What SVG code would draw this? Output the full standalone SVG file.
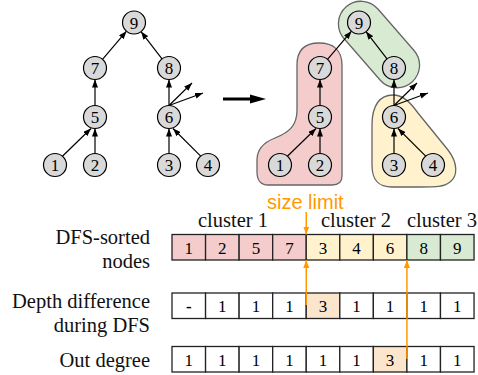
<svg xmlns="http://www.w3.org/2000/svg" width="478" height="375" viewBox="0 0 478 375">
<style>
.n circle{fill:#d9d9d9;stroke:#000;stroke-width:1.2}
.n text,.ct{text-anchor:middle;fill:#000}
.e line{stroke:#000;stroke-width:1.2;marker-end:url(#ah)}
.blob{stroke:#666;stroke-width:1.3}
.cell{stroke:#222;stroke-width:1.3}
.lbl{fill:#111}
.or{stroke:#ff9900;stroke-width:1.5;marker-end:url(#oh)}
</style>
<defs>
<marker id="ah" markerUnits="userSpaceOnUse" markerWidth="8" markerHeight="6" refX="8" refY="3" orient="auto"><path d="M0,0 L8,3 L0,6 z" fill="#000"/></marker>
<marker id="oh" markerUnits="userSpaceOnUse" markerWidth="8" markerHeight="6" refX="8" refY="3" orient="auto"><path d="M0,0 L8,3 L0,6 z" fill="#ff9900"/></marker>
</defs>

<!-- cluster blobs -->
<g id="blobs">
<path id="blob-pink" class="blob" fill="#f4cccc" d="M297,65 C297,50 305,43 319,43 C333,43 342,50 342,65 L342,176 C342,182 338,185 332,185 L268,185 C261,185 257,180 257,172 L257,160 C257,150 262,143 275,138 C290,132 297,125 297,110 Z"/>
<rect id="blob-green" class="blob" fill="#d9ead3" x="-50" y="-22.5" width="100" height="45" rx="22.5" transform="translate(379,44.5) rotate(49)"/>
<path id="blob-yellow" class="blob" fill="#fff2cc" d="M393,95 C403,95 410,102 418,113 L448,150 C458,163 458,176 450,182 C444,187 436,187 420,187 L392,187 C378,187 372,180 372,165 L372,125 C372,105 380,95 393,95 Z"/>
</g>

<!-- left tree connectors -->
<g id="connectors-left" class="e">
<line x1="102.5" y1="59.3" x2="126.5" y2="31.2"/>
<line x1="162" y1="58.9" x2="141" y2="31.6"/>
<line x1="95" y1="105.5" x2="95" y2="79.5"/>
<line x1="169" y1="105.5" x2="169" y2="79.5"/>
<line x1="62.4" y1="156.2" x2="91" y2="128.5"/>
<line x1="95" y1="153.5" x2="95" y2="128.5"/>
<line x1="169" y1="153.5" x2="169" y2="128.5"/>
<line x1="200.7" y1="156.1" x2="173" y2="128.5"/>
<line x1="169" y1="105.5" x2="192" y2="83"/>
<line x1="169" y1="105.5" x2="203" y2="93"/>
</g>
<g id="connectors-right" class="e" transform="translate(225,0)">
<line x1="102.5" y1="59.3" x2="126.5" y2="31.2"/>
<line x1="162" y1="58.9" x2="141" y2="31.6"/>
<line x1="95" y1="105.5" x2="95" y2="79.5"/>
<line x1="169" y1="105.5" x2="169" y2="79.5"/>
<line x1="62.4" y1="156.2" x2="91" y2="128.5"/>
<line x1="95" y1="153.5" x2="95" y2="128.5"/>
<line x1="169" y1="153.5" x2="169" y2="128.5"/>
<line x1="200.7" y1="156.1" x2="173" y2="128.5"/>
<line x1="169" y1="105.5" x2="192" y2="83"/>
<line x1="169" y1="105.5" x2="203" y2="93"/>
</g>

<!-- left tree nodes -->
<g id="L9" class="n"><circle cx="134" cy="22.5" r="11.5"/><text x="134" y="28.5" font-family="Liberation Serif, serif" font-size="17">9</text></g>
<g id="L7" class="n"><circle cx="95" cy="68" r="11.5"/><text x="95" y="74" font-family="Liberation Serif, serif" font-size="17">7</text></g>
<g id="L8" class="n"><circle cx="169" cy="68" r="11.5"/><text x="169" y="74" font-family="Liberation Serif, serif" font-size="17">8</text></g>
<g id="L5" class="n"><circle cx="95" cy="117" r="11.5"/><text x="95" y="123" font-family="Liberation Serif, serif" font-size="17">5</text></g>
<g id="L6" class="n"><circle cx="169" cy="117" r="11.5"/><text x="169" y="123" font-family="Liberation Serif, serif" font-size="17">6</text></g>
<g id="L1" class="n"><circle cx="55" cy="165" r="11.5"/><text x="55" y="171" font-family="Liberation Serif, serif" font-size="17">1</text></g>
<g id="L2" class="n"><circle cx="95" cy="165" r="11.5"/><text x="95" y="171" font-family="Liberation Serif, serif" font-size="17">2</text></g>
<g id="L3" class="n"><circle cx="169" cy="165" r="11.5"/><text x="169" y="171" font-family="Liberation Serif, serif" font-size="17">3</text></g>
<g id="L4" class="n"><circle cx="208" cy="165" r="11.5"/><text x="208" y="171" font-family="Liberation Serif, serif" font-size="17">4</text></g>

<!-- right tree nodes -->
<g id="R9" class="n"><circle cx="359" cy="22.5" r="11.5"/><text x="359" y="28.5" font-family="Liberation Serif, serif" font-size="17">9</text></g>
<g id="R7" class="n"><circle cx="320" cy="68" r="11.5"/><text x="320" y="74" font-family="Liberation Serif, serif" font-size="17">7</text></g>
<g id="R8" class="n"><circle cx="394" cy="68" r="11.5"/><text x="394" y="74" font-family="Liberation Serif, serif" font-size="17">8</text></g>
<g id="R5" class="n"><circle cx="320" cy="117" r="11.5"/><text x="320" y="123" font-family="Liberation Serif, serif" font-size="17">5</text></g>
<g id="R6" class="n"><circle cx="394" cy="117" r="11.5"/><text x="394" y="123" font-family="Liberation Serif, serif" font-size="17">6</text></g>
<g id="R1" class="n"><circle cx="280" cy="165" r="11.5"/><text x="280" y="171" font-family="Liberation Serif, serif" font-size="17">1</text></g>
<g id="R2" class="n"><circle cx="320" cy="165" r="11.5"/><text x="320" y="171" font-family="Liberation Serif, serif" font-size="17">2</text></g>
<g id="R3" class="n"><circle cx="394" cy="165" r="11.5"/><text x="394" y="171" font-family="Liberation Serif, serif" font-size="17">3</text></g>
<g id="R4" class="n"><circle cx="433" cy="165" r="11.5"/><text x="433" y="171" font-family="Liberation Serif, serif" font-size="17">4</text></g>

<!-- big arrow -->
<g id="big-arrow">
<line x1="223" y1="99" x2="252" y2="99" stroke="#000" stroke-width="3"/>
<path d="M250,94.5 L266,99 L250,103.5 z" fill="#000"/>
</g>

<!-- row labels -->
<g id="labels" class="lbl">
<text x="150" y="244" text-anchor="end" font-family="Liberation Serif, serif" font-size="20.5">DFS-sorted</text>
<text x="150" y="268" text-anchor="end" font-family="Liberation Serif, serif" font-size="20.5">nodes</text>
<text x="150" y="308" text-anchor="end" font-family="Liberation Serif, serif" font-size="20.5">Depth difference</text>
<text x="150" y="332" text-anchor="end" font-family="Liberation Serif, serif" font-size="20.5">during DFS</text>
<text x="150" y="367" text-anchor="end" font-family="Liberation Serif, serif" font-size="20.5">Out degree</text>
</g>
<g id="cluster-labels" class="lbl">
<text x="198" y="227" font-family="Liberation Serif, serif" font-size="20.5">cluster 1</text>
<text x="321" y="227" font-family="Liberation Serif, serif" font-size="20.5">cluster 2</text>
<text x="407" y="227" font-family="Liberation Serif, serif" font-size="20.5">cluster 3</text>
</g>
<text x="267" y="209" font-family="Liberation Sans, Arial, sans-serif" font-size="20" fill="#ff9900">size limit</text>

<!-- row 1: DFS-sorted nodes -->
<g id="row1" font-family="Liberation Serif, serif" font-size="17">
<rect class="cell" x="172" y="234.5" width="33.56" height="25.5" fill="#f4cccc"/>
<rect class="cell" x="205.56" y="234.5" width="33.56" height="25.5" fill="#f4cccc"/>
<rect class="cell" x="239.12" y="234.5" width="33.56" height="25.5" fill="#f4cccc"/>
<rect class="cell" x="272.68" y="234.5" width="33.56" height="25.5" fill="#f4cccc"/>
<rect class="cell" x="306.24" y="234.5" width="33.56" height="25.5" fill="#fff2cc"/>
<rect class="cell" x="339.8" y="234.5" width="33.56" height="25.5" fill="#fff2cc"/>
<rect class="cell" x="373.36" y="234.5" width="33.56" height="25.5" fill="#fff2cc"/>
<rect class="cell" x="406.92" y="234.5" width="33.56" height="25.5" fill="#d9ead3"/>
<rect class="cell" x="440.48" y="234.5" width="33.56" height="25.5" fill="#d9ead3"/>
<text class="ct" x="188.8" y="253.5" font-family="Liberation Serif, serif" font-size="17">1</text>
<text class="ct" x="222.3" y="253.5" font-family="Liberation Serif, serif" font-size="17">2</text>
<text class="ct" x="255.9" y="253.5" font-family="Liberation Serif, serif" font-size="17">5</text>
<text class="ct" x="289.5" y="253.5" font-family="Liberation Serif, serif" font-size="17">7</text>
<text class="ct" x="323" y="253.5" font-family="Liberation Serif, serif" font-size="17">3</text>
<text class="ct" x="356.6" y="253.5" font-family="Liberation Serif, serif" font-size="17">4</text>
<text class="ct" x="390.1" y="253.5" font-family="Liberation Serif, serif" font-size="17">6</text>
<text class="ct" x="423.7" y="253.5" font-family="Liberation Serif, serif" font-size="17">8</text>
<text class="ct" x="457.3" y="253.5" font-family="Liberation Serif, serif" font-size="17">9</text>
</g>

<!-- row 2: depth difference -->
<g id="row2">
<rect class="cell" x="172" y="293" width="33.56" height="25.5" fill="#fff"/>
<rect class="cell" x="205.56" y="293" width="33.56" height="25.5" fill="#fff"/>
<rect class="cell" x="239.12" y="293" width="33.56" height="25.5" fill="#fff"/>
<rect class="cell" x="272.68" y="293" width="33.56" height="25.5" fill="#fff"/>
<rect class="cell" x="306.24" y="293" width="33.56" height="25.5" fill="#fce5cd"/>
<rect class="cell" x="339.8" y="293" width="33.56" height="25.5" fill="#fff"/>
<rect class="cell" x="373.36" y="293" width="33.56" height="25.5" fill="#fff"/>
<rect class="cell" x="406.92" y="293" width="33.56" height="25.5" fill="#fff"/>
<rect class="cell" x="440.48" y="293" width="33.56" height="25.5" fill="#fff"/>
<text class="ct" x="188.8" y="312" font-family="Liberation Serif, serif" font-size="17" font-weight="bold">-</text>
<text class="ct" x="222.3" y="312" font-family="Liberation Serif, serif" font-size="17">1</text>
<text class="ct" x="255.9" y="312" font-family="Liberation Serif, serif" font-size="17">1</text>
<text class="ct" x="289.5" y="312" font-family="Liberation Serif, serif" font-size="17">1</text>
<text class="ct" x="323" y="312" font-family="Liberation Serif, serif" font-size="17">3</text>
<text class="ct" x="356.6" y="312" font-family="Liberation Serif, serif" font-size="17">1</text>
<text class="ct" x="390.1" y="312" font-family="Liberation Serif, serif" font-size="17">1</text>
<text class="ct" x="423.7" y="312" font-family="Liberation Serif, serif" font-size="17">1</text>
<text class="ct" x="457.3" y="312" font-family="Liberation Serif, serif" font-size="17">1</text>
</g>

<!-- row 3: out degree -->
<g id="row3">
<rect class="cell" x="172" y="346.5" width="33.56" height="25.5" fill="#fff"/>
<rect class="cell" x="205.56" y="346.5" width="33.56" height="25.5" fill="#fff"/>
<rect class="cell" x="239.12" y="346.5" width="33.56" height="25.5" fill="#fff"/>
<rect class="cell" x="272.68" y="346.5" width="33.56" height="25.5" fill="#fff"/>
<rect class="cell" x="306.24" y="346.5" width="33.56" height="25.5" fill="#fff"/>
<rect class="cell" x="339.8" y="346.5" width="33.56" height="25.5" fill="#fff"/>
<rect class="cell" x="373.36" y="346.5" width="33.56" height="25.5" fill="#fce5cd"/>
<rect class="cell" x="406.92" y="346.5" width="33.56" height="25.5" fill="#fff"/>
<rect class="cell" x="440.48" y="346.5" width="33.56" height="25.5" fill="#fff"/>
<text class="ct" x="188.8" y="365.5" font-family="Liberation Serif, serif" font-size="17">1</text>
<text class="ct" x="222.3" y="365.5" font-family="Liberation Serif, serif" font-size="17">1</text>
<text class="ct" x="255.9" y="365.5" font-family="Liberation Serif, serif" font-size="17">1</text>
<text class="ct" x="289.5" y="365.5" font-family="Liberation Serif, serif" font-size="17">1</text>
<text class="ct" x="323" y="365.5" font-family="Liberation Serif, serif" font-size="17">1</text>
<text class="ct" x="356.6" y="365.5" font-family="Liberation Serif, serif" font-size="17">1</text>
<text class="ct" x="390.1" y="365.5" font-family="Liberation Serif, serif" font-size="17">3</text>
<text class="ct" x="423.7" y="365.5" font-family="Liberation Serif, serif" font-size="17">1</text>
<text class="ct" x="457.3" y="365.5" font-family="Liberation Serif, serif" font-size="17">1</text>
</g>

<!-- orange connectors -->
<g id="connectors-orange">
<line class="or" x1="306.24" y1="212" x2="306.24" y2="234.5"/>
<line class="or" x1="306.24" y1="305" x2="306.24" y2="260"/>
<line class="or" x1="406.92" y1="359" x2="406.92" y2="260"/>
</g>
</svg>
